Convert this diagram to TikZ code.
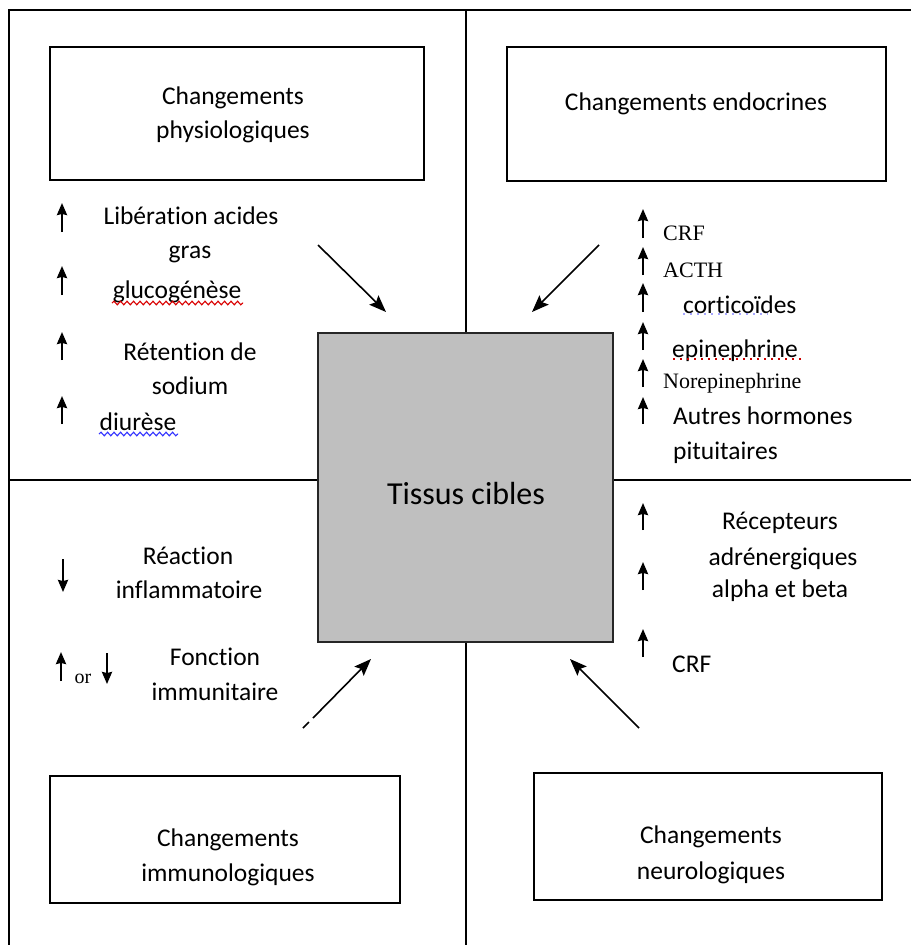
\documentclass[tikz,border=0pt]{standalone}
\usepackage{fontspec}
\setmainfont{Carlito}[Ligatures={NoCommon}]
\newfontfamily\timesfont{Liberation Serif}
\usetikzlibrary{arrows.meta,decorations.pathmorphing}

\begin{document}
\begin{tikzpicture}[x=1pt,y=-1pt,
  rule/.style={line width=1.3pt, draw=black},
  titlebox/.style={draw=black, line width=1.3pt, fill=white, inner sep=0pt},
  target/.style={draw=black!85, line width=1.5pt, fill=black!25, inner sep=0pt},
  lbl/.style={anchor=base, inner sep=0pt, font=\fontsize{25.5}{30}\selectfont},
  lblw/.style={lbl, anchor=base west},
  serif/.style={anchor=base west, inner sep=0pt, font=\timesfont\fontsize{22}{26}\selectfont},
  flow/.style={line width=1.6pt, -{Stealth[length=17pt,width=13pt,inset=3pt]}},
  trend/.style={line width=2.2pt, -{Stealth[length=12pt,width=10pt,inset=1pt]}},
  spell/.style={decorate, decoration={snake, amplitude=1.8pt, segment length=6.5pt}, line width=1.1pt},
  hint/.style={line width=1.2pt, dash pattern=on 1.5pt off 5.5pt},
]
\useasboundingbox (0,0) rectangle (911,945);

% the four title boxes and the central target
\node[titlebox, minimum width=374pt, minimum height=133pt] (phys) at (237,113.5) {};
\node[titlebox, minimum width=379pt, minimum height=134pt] (endo) at (696.5,114) {};
\node[titlebox, minimum width=350pt, minimum height=127pt] (immu) at (225,839.5) {};
\node[titlebox, minimum width=348pt, minimum height=127pt] (neur) at (708,836.5) {};
\node[target, minimum width=295pt, minimum height=309pt] (tissus) at (465.5,487.5) {};

% outer frame and quadrant dividers
\coordinate (nw) at (9,10);
\coordinate (ne) at (911,10);
\coordinate (sw) at (9,945);
\coordinate (topmid) at (466,10);
\coordinate (botmid) at (466,945);
\coordinate (midl) at (9,480);
\coordinate (midr) at (911,480);
\draw[rule] (sw) -- (nw) -- (ne);
\draw[rule] (topmid) -- (topmid |- tissus.north);
\draw[rule] (botmid) -- (botmid |- tissus.south);
\draw[rule] (midl) -- (midl -| tissus.west);
\draw[rule] (midr) -- (midr -| tissus.east);

% box titles
\node[lbl] (physa) at (233,104) {Changements};
\node[lbl] (physb) at (233,138) {physiologiques};
\node[lbl] (endoa) at (696,110) {Changements endocrines};
\node[lbl] (immua) at (228,846) {Changements};
\node[lbl] (immub) at (228,881) {immunologiques};
\node[lbl] (neura) at (711,843) {Changements};
\node[lbl] (neurb) at (711,879) {neurologiques};
\node[anchor=base, inner sep=0pt, font=\fontsize{32}{38}\selectfont] (tc) at (466,504) {Tissus cibles};

% arrows pointing at the target tissue
\coordinate (f1s) at (318,245); \coordinate (f1e) at (386,312);
\coordinate (f2s) at (599,245); \coordinate (f2e) at (532,312);
\coordinate (f3s) at (303,728); \coordinate (f3g) at (309,722);
\coordinate (f3t) at (313,718); \coordinate (f3e) at (371,659);
\coordinate (f4s) at (639,728); \coordinate (f4e) at (570,659);
\draw[flow] (f1s) -- (f1e);
\draw[flow] (f2s) -- (f2e);
\draw[line width=1.6pt] (f3s) -- (f3g);
\draw[flow] (f3t) -- (f3e);
\draw[flow] (f4s) -- (f4e);

% physiological changes
\draw[trend] (62,232) -- (62,203);
\draw[trend] (62,295) -- (62,266);
\draw[trend] (62,360) -- (62,332);
\draw[trend] (62,424) -- (62,396);
\node[lbl] (p1) at (191,224) {Libération acides};
\node[lbl] (p2) at (190,258) {gras};
\node[lbl] (p3) at (177,298) {glucogénèse};
\node[lbl] (p4) at (190,360) {Rétention de};
\node[lbl] (p5) at (190,394) {sodium};
\node[lbl] (p6) at (138,430) {diurèse};
\draw[spell, red!85!black] (112,303) -- (243,303);
\draw[spell, blue!80!white] (99,434) -- (178,434);

% endocrine changes
\foreach \t/\b in {209/238, 247/275, 283/312, 322/350, 359/387, 397/424}
  \draw[trend] (643,\b) -- (643,\t);
\node[serif] (e1) at (663,240) {CRF};
\node[serif] (e2) at (663,277) {ACTH};
\node[lblw] (e3) at (683,313) {corticoïdes};
\node[lblw] (e4) at (672,357) {epinephrine};
\node[serif] (e5) at (663,388) {Norepinephrine};
\node[lblw] (e6) at (673,424) {Autres hormones};
\node[lblw] (e7) at (673,459) {pituitaires};
\draw[hint, blue!35] (683,314) -- (768,314);
\draw[hint, red!80!black] (673,359) -- (806,359);

% immunological changes
\draw[trend] (63,559) -- (63,592);
\draw[trend] (61,681) -- (61,652);
\draw[trend] (107,653) -- (107,684);
\node[anchor=base, inner sep=0pt, font=\timesfont\fontsize{20}{24}\selectfont] (orw) at (83,683) {or};
\node[lbl] (i1) at (188,564) {Réaction};
\node[lbl] (i2) at (189,598) {inflammatoire};
\node[lbl] (i3) at (215,665) {Fonction};
\node[lbl] (i4) at (215,700) {immunitaire};

% neurological changes
\draw[trend] (643,530) -- (643,503);
\draw[trend] (643,590) -- (643,562);
\draw[trend] (643,657) -- (643,629);
\node[lbl] (n1) at (780,529) {Récepteurs};
\node[lbl] (n2) at (783,565) {adrénergiques};
\node[lbl] (n3) at (780,597) {alpha et beta};
\node[lblw] (n4) at (672,672) {CRF};
\end{tikzpicture}
\end{document}
